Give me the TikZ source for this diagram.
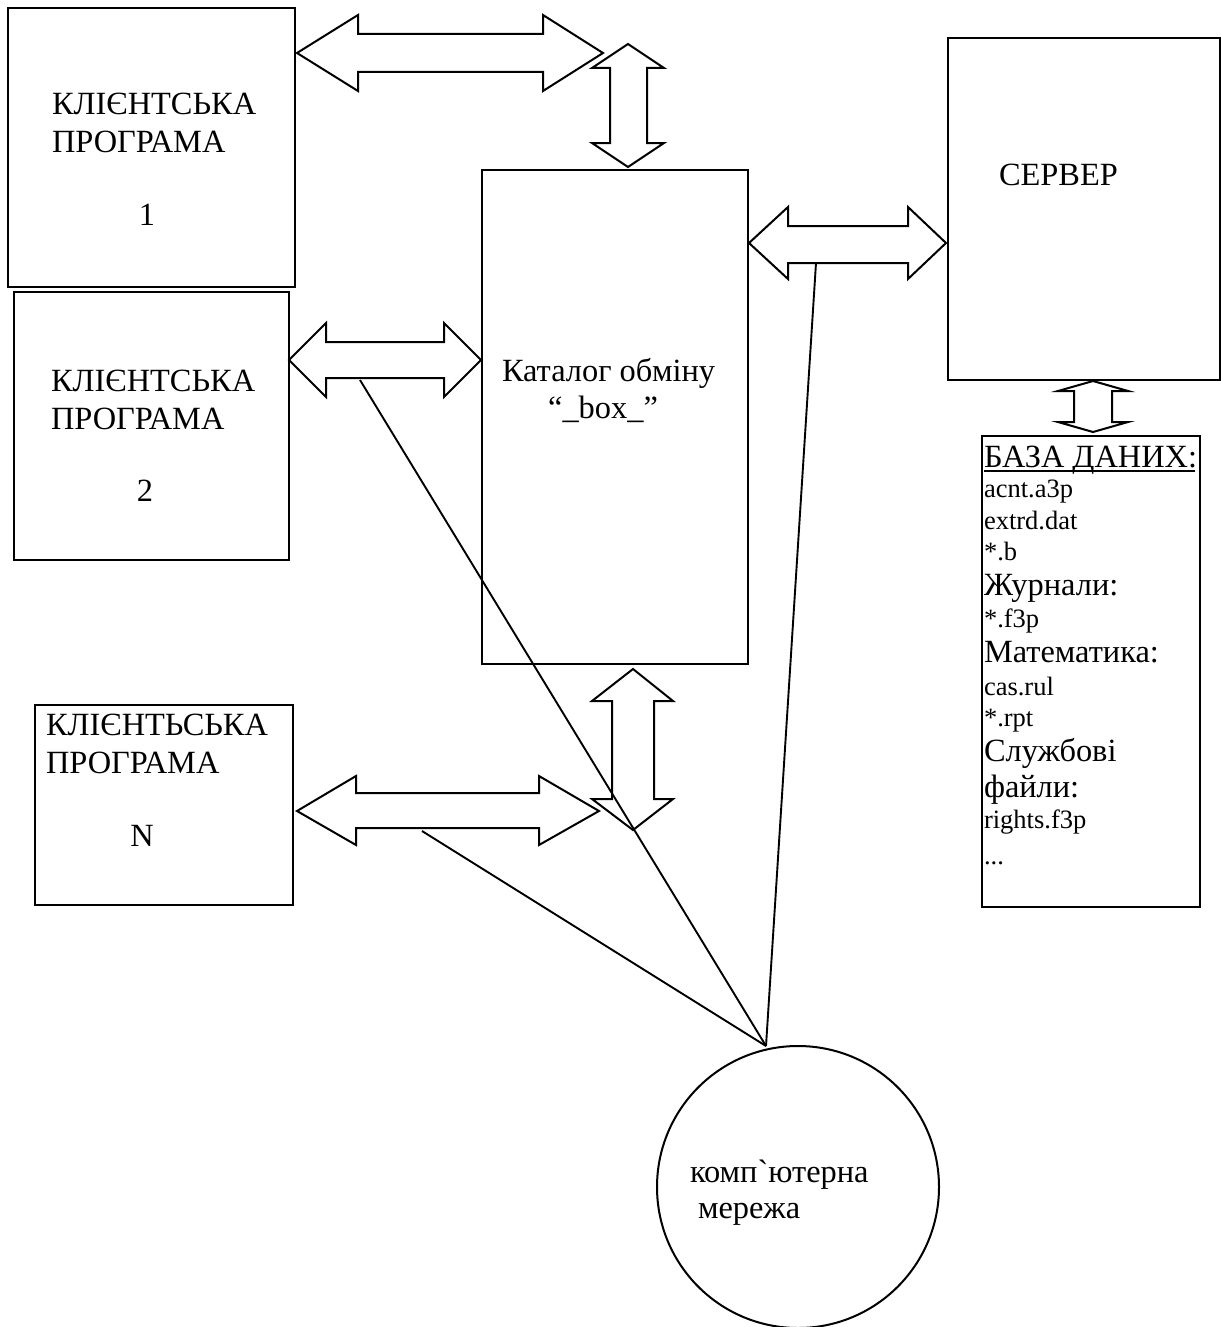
\documentclass[tikz,border=0pt]{standalone}
\usepackage{fontspec}
\setmainfont{Liberation Serif}
\newfontfamily\rawserif{Liberation Serif}
\newcommand{\dbig}{\fontsize{32.4}{36}\selectfont}
\newcommand{\dsmall}{\fontsize{26.5}{30}\selectfont}
\tikzset{
  cbox/.style={draw=black,line width=2pt,fill=white},
  darrow/.style={draw=black,line width=2pt,fill=white,line join=miter},
  wire/.style={draw=black,line width=1.9pt},
  lbl/.style={anchor=base west,inner sep=0pt,outer sep=0pt,font=\dbig},
  lbc/.style={anchor=base,inner sep=0pt,outer sep=0pt,font=\dbig},
  sml/.style={anchor=base west,inner sep=0pt,outer sep=0pt,font=\dsmall}
}
% horizontal double arrow: tipL, baseL, baseR, tipR, top, shaftTop, mid, shaftBot, bottom
\newcommand{\harrow}[9]{\draw[darrow] (#1,#7)--(#2,#5)--(#2,#6)--(#3,#6)--(#3,#5)--(#4,#7)--(#3,#9)--(#3,#8)--(#2,#8)--(#2,#9)--cycle;}
% vertical double arrow: tipT, baseT, baseB, tipB, left, shaftL, mid, shaftR, right
\newcommand{\varrow}[9]{\draw[darrow] (#7,#1)--(#9,#2)--(#8,#2)--(#8,#3)--(#9,#3)--(#7,#4)--(#5,#3)--(#6,#3)--(#6,#2)--(#5,#2)--cycle;}
\begin{document}
\begin{tikzpicture}[x=1pt,y=-1pt]
\useasboundingbox[fill=white] (0,0) rectangle (1220,1327);
% boxes
\draw[cbox] (8,8) rectangle (295,287);
\draw[cbox] (14,292) rectangle (289,560);
\draw[cbox] (35,705) rectangle (293,905);
\draw[cbox] (482,170) rectangle (748,664);
\draw[cbox] (948,38) rectangle (1220,380);
\draw[cbox] (982,436) rectangle (1200,907);
\draw[cbox] (798,1187) circle (141);
% double arrows
\harrow{297}{358}{543}{603}{15}{34}{53}{72}{91}
\varrow{44}{68}{143}{167}{592}{610}{628}{647}{664}
\harrow{749}{788}{908}{946}{207}{226}{243}{263}{279}
\harrow{289}{326}{444}{481}{323}{342}{360}{378}{397}
\varrow{669}{701}{799}{830}{592}{612}{633}{654}{673}
\harrow{297}{356}{539}{599}{776}{793}{811}{828}{845}
\varrow{381}{391}{422}{432}{1058}{1074}{1093}{1112}{1128}
% connectors
\coordinate (net) at (766,1046);
\coordinate (a2) at (360,380);
\coordinate (an) at (422,831);
\coordinate (as) at (816,263);
\draw[wire] (a2) -- (net);
\draw[wire] (an) -- (net);
\draw[wire] (as) -- (net);
% labels
\node[lbl] (c1a) at (52,115) {КЛІЄНТСЬКА};
\node[lbl] (c1b) at (52,153) {ПРОГРАМА};
\node[lbc] (c1c) at (147,225) {1};
\node[lbl] (c2a) at (51,391) {КЛІЄНТСЬКА};
\node[lbl] (c2b) at (51,429) {ПРОГРАМА};
\node[lbc] (c2c) at (145,501) {2};
\node[lbl] (cna) at (46,735) {КЛІЄНТЬСЬКА};
\node[lbl] (cnb) at (46,773) {ПРОГРАМА};
\node[lbc] (cnc) at (142,846) {N};
\node[lbl] (srv) at (999,185) {СЕРВЕР};
\node[lbl] (cat) at (502,381) {Каталог обміну};
\node[lbc] (box) at (603,418) {“\_box\_”};
\node[lbl] (net1) at (690,1182) {комп{\rawserif `}ютерна};
\node[lbl] (net2) at (698,1218) {мережа};
\node[lbl] (db) at (984,467) {БАЗА ДАНИХ:};
\draw[draw=black,line width=1.9pt] (984,471) -- (1195,471);
\node[sml] (d1) at (984,497) {acnt.a3p};
\node[sml] (d2) at (984,529) {extrd.dat};
\node[sml] (d3) at (984,560) {*.b};
\node[lbl] (d4) at (984,595) {Журнали:};
\node[sml] (d5) at (984,627) {*.f3p};
\node[lbl] (d6) at (984,662) {Математика:};
\node[sml] (d7) at (984,695) {cas.rul};
\node[sml] (d8) at (984,726) {*.rpt};
\node[lbl] (d9) at (984,761) {Службові};
\node[lbl] (d10) at (984,797) {файли:};
\node[sml] (d11) at (984,828) {rights.f3p};
\node[sml] (d12) at (984,864) {...};
\end{tikzpicture}
\end{document}
